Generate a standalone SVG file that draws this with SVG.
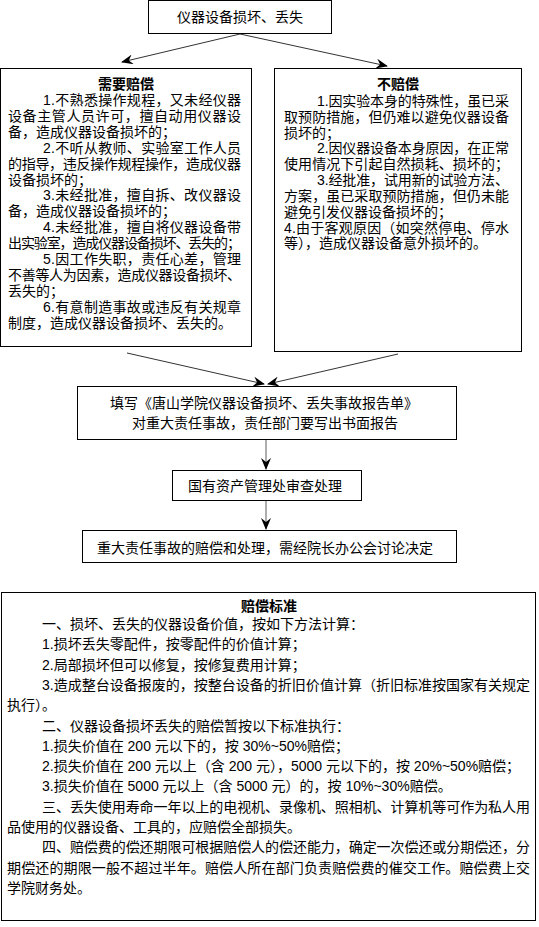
<svg xmlns="http://www.w3.org/2000/svg" width="539" height="927" viewBox="0 0 539 927">
<style>
text{font-family:"Liberation Sans","Noto Sans CJK SC",sans-serif;font-size:14px;fill:#000}
.b{font-weight:bold}
.c{text-anchor:middle}
rect{fill:#fff;stroke:#000;stroke-width:1}
.ln{stroke:#333;stroke-width:1;fill:none;marker-end:url(#ah)}
.lg{stroke:#777;stroke-width:1.2;fill:none;marker-end:url(#ah)}
</style>
<defs>
<marker id="ah" viewBox="0 0 12 10" refX="11" refY="5" markerWidth="12" markerHeight="10" markerUnits="userSpaceOnUse" orient="auto">
<path d="M0,0 L12,5 L0,10 L4,5 z" fill="#000"/>
</marker>
</defs>
<rect x="0" y="0" width="539" height="927" style="stroke:none"/>
<g id="connectors">
<line class="ln" x1="240" y1="34" x2="122" y2="62"/>
<line class="ln" x1="240" y1="34" x2="387" y2="66"/>
<line class="ln" x1="127" y1="353" x2="264" y2="384"/>
<line class="ln" x1="398" y1="354" x2="268" y2="384"/>
<line class="lg" x1="266" y1="440" x2="266" y2="469"/>
<line class="lg" x1="266" y1="501" x2="266" y2="529"/>
</g>
<g id="n-top">
<rect x="148.5" y="0.5" width="183" height="33"/>
<text class="c" x="240" y="22">仪器设备损坏、丢失</text>
</g>
<g id="n-left">
<rect x="0.5" y="68.5" width="251" height="278"/>
<text class="b c" x="126" y="89">需要赔偿</text>
<text x="43" y="105" textLength="198" lengthAdjust="spacing">1.不熟悉操作规程，又未经仪器</text>
<text x="8" y="121" textLength="233" lengthAdjust="spacing">设备主管人员许可，擅自动用仪器设</text>
<text x="8" y="137">备，造成仪器设备损坏的；</text>
<text x="43" y="153" textLength="198" lengthAdjust="spacing">2.不听从教师、实验室工作人员</text>
<text x="8" y="169" textLength="233" lengthAdjust="spacing">的指导，违反操作规程操作，造成仪器</text>
<text x="8" y="184.5">设备损坏的；</text>
<text x="43" y="200" textLength="198" lengthAdjust="spacing">3.未经批准，擅自拆、改仪器设</text>
<text x="8" y="216">备，造成仪器设备损坏的；</text>
<text x="43" y="232" textLength="198" lengthAdjust="spacing">4.未经批准，擅自将仪器设备带</text>
<text x="8" y="248" textLength="233" lengthAdjust="spacing">出实验室，造成仪器设备损坏、丢失的；</text>
<text x="43" y="264" textLength="198" lengthAdjust="spacing">5.因工作失职，责任心差，管理</text>
<text x="8" y="280" textLength="233" lengthAdjust="spacing">不善等人为因素，造成仪器设备损坏、</text>
<text x="8" y="296">丢失的；</text>
<text x="43" y="312" textLength="198" lengthAdjust="spacing">6.有意制造事故或违反有关规章</text>
<text x="8" y="328">制度，造成仪器设备损坏、丢失的。</text>
</g>
<g id="n-right">
<rect x="274.5" y="68.5" width="247" height="283"/>
<text class="b c" x="398" y="89">不赔偿</text>
<text x="317" y="106" textLength="192" lengthAdjust="spacing">1.因实验本身的特殊性，虽已采</text>
<text x="284" y="122" textLength="225" lengthAdjust="spacing">取预防措施，但仍难以避免仪器设备</text>
<text x="284" y="138">损坏的；</text>
<text x="317" y="153" textLength="192" lengthAdjust="spacing">2.因仪器设备本身原因，在正常</text>
<text x="284" y="169" textLength="225" lengthAdjust="spacing">使用情况下引起自然损耗、损坏的；</text>
<text x="317" y="185" textLength="192" lengthAdjust="spacing">3.经批准，试用新的试验方法、</text>
<text x="284" y="201" textLength="225" lengthAdjust="spacing">方案，虽已采取预防措施，但仍未能</text>
<text x="284" y="217">避免引发仪器设备损坏的；</text>
<text x="284" y="233" textLength="225" lengthAdjust="spacing">4.由于客观原因（如突然停电、停水</text>
<text x="284" y="248">等），造成仪器设备意外损坏的。</text>
</g>
<g id="n-report">
<rect x="77.5" y="386.5" width="379" height="53"/>
<text x="110" y="408">填写《唐山学院仪器设备损坏、丢失事故报告单》</text>
<text x="132" y="428">对重大责任事故，责任部门要写出书面报告</text>
</g>
<g id="n-review">
<rect x="172.5" y="470.5" width="189" height="30"/>
<text x="188" y="491">国有资产管理处审查处理</text>
</g>
<g id="n-decide">
<rect x="82.5" y="530.5" width="374" height="32"/>
<text x="97" y="553">重大责任事故的赔偿和处理，需经院长办公会讨论决定</text>
</g>
<g id="n-standard">
<rect x="1.5" y="592.5" width="534" height="328"/>
<text class="b c" x="269" y="611">赔偿标准</text>
<text x="42" y="629">一、损坏、丢失的仪器设备价值，按如下方法计算：</text>
<text x="42" y="649.3">1.损坏丢失零配件，按零配件的价值计算；</text>
<text x="42" y="669.6">2.局部损坏但可以修复，按修复费用计算；</text>
<text x="42" y="689.9" textLength="488" lengthAdjust="spacing">3.造成整台设备报废的，按整台设备的折旧价值计算（折旧标准按国家有关规定</text>
<text x="7" y="710.2">执行）。</text>
<text x="42" y="730.5">二、仪器设备损坏丢失的赔偿暂按以下标准执行：</text>
<text x="42" y="750.8">1.损失价值在 200 元以下的，按 30%~50%赔偿；</text>
<text x="42" y="771.1">2.损失价值在 200 元以上（含 200 元），5000 元以下的，按 20%~50%赔偿；</text>
<text x="42" y="791.4">3.损失价值在 5000 元以上（含 5000 元）的，按 10%~30%赔偿。</text>
<text x="42" y="811.7" textLength="488" lengthAdjust="spacing">三、丢失使用寿命一年以上的电视机、录像机、照相机、计算机等可作为私人用</text>
<text x="7" y="832">品使用的仪器设备、工具的，应赔偿全部损失。</text>
<text x="42" y="852.3" textLength="488" lengthAdjust="spacing">四、赔偿费的偿还期限可根据赔偿人的偿还能力，确定一次偿还或分期偿还，分</text>
<text x="7" y="872.6" textLength="523" lengthAdjust="spacing">期偿还的期限一般不超过半年。赔偿人所在部门负责赔偿费的催交工作。赔偿费上交</text>
<text x="7" y="892.9">学院财务处。</text>
</g>
</svg>
